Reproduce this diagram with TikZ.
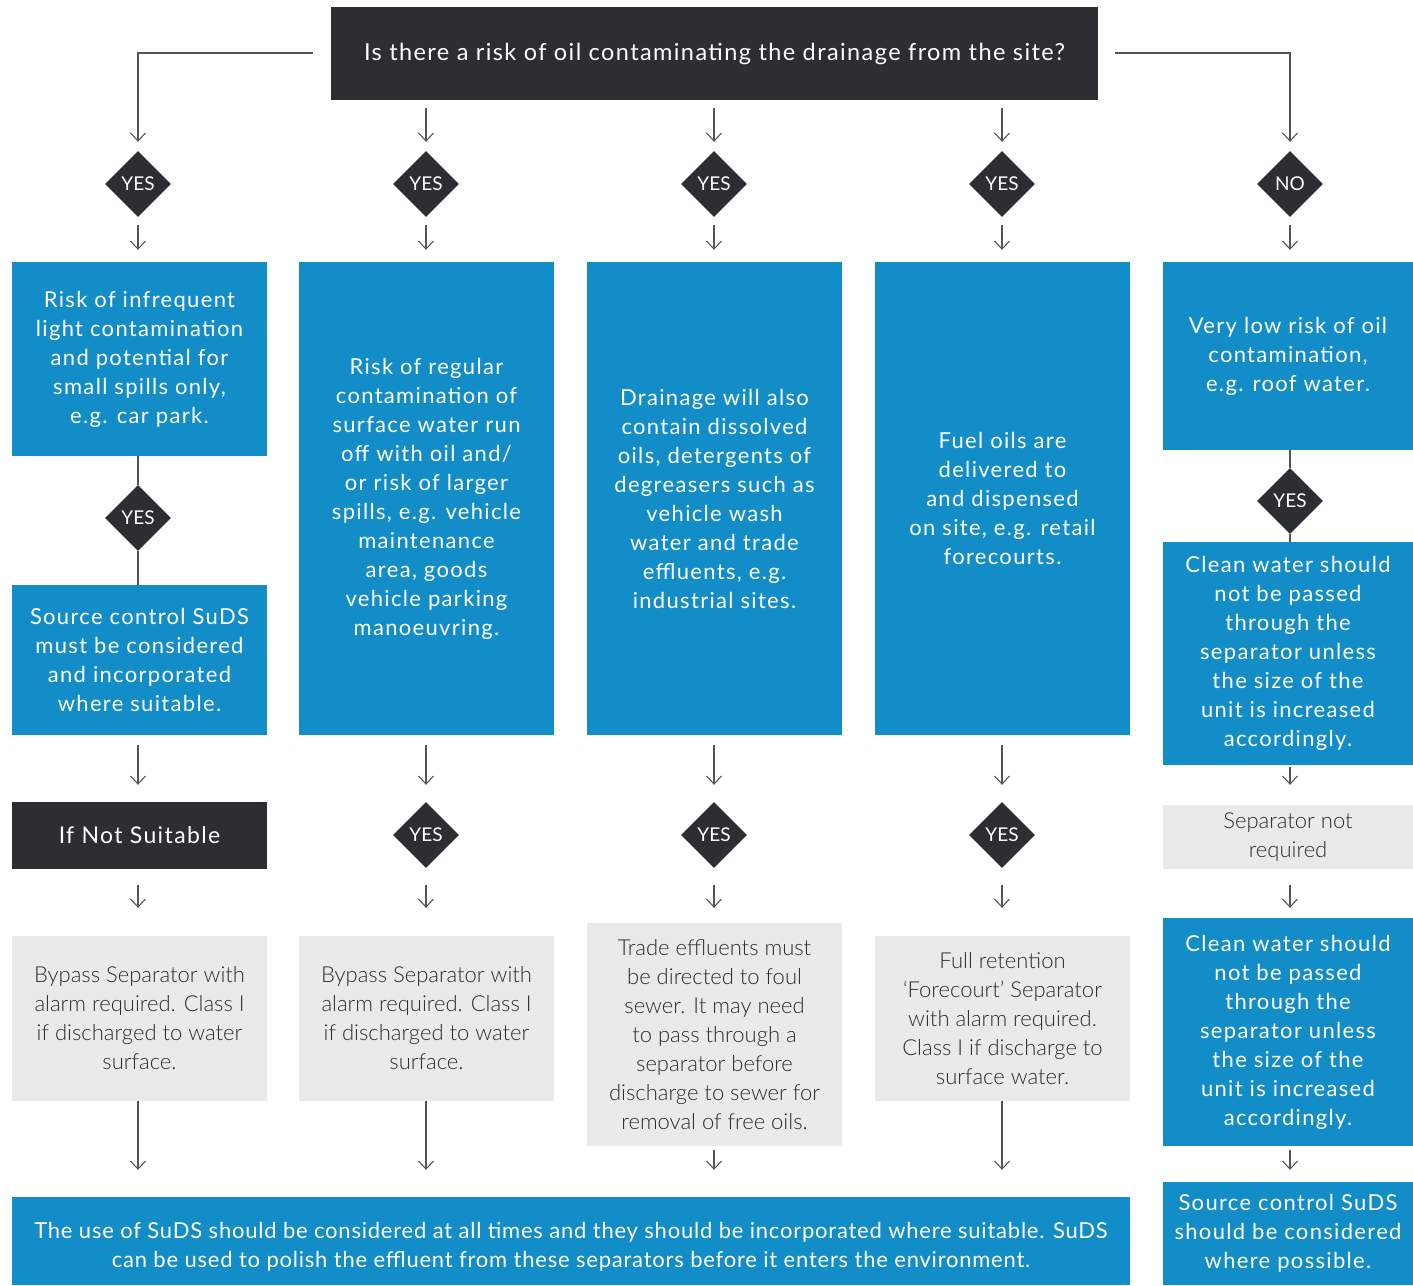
\documentclass[tikz,border=0pt]{standalone}
\usepackage{fontspec}
\setmainfont{Lato}
\newfontfamily\wideLato[LetterSpace=6]{Lato}
\newfontfamily\midLato[LetterSpace=3.5]{Lato}
\newfontfamily\lightLato{Lato Light}
\usetikzlibrary{shapes.geometric,arrows.meta}
\definecolor{blu}{RGB}{19,141,200}
\definecolor{drk}{RGB}{45,46,50}
\definecolor{lgr}{RGB}{234,234,234}
\definecolor{gtx}{RGB}{45,45,48}
\definecolor{lin}{RGB}{85,85,88}
\begin{document}
\begin{tikzpicture}[x=1pt,y=-1pt,
  box/.style={rectangle, inner sep=0pt, align=center, minimum width=255pt},
  bluebox/.style={box, fill=blu, text=white, font=\wideLato\fontsize{22}{29}\selectfont},
  darkbox/.style={box, fill=drk, text=white, font=\wideLato\fontsize{22}{29}\selectfont},
  greybox/.style={box, fill=lgr, text=gtx, font=\lightLato\fontsize{22}{29}\selectfont},
  dia/.style={diamond, fill=drk, text=white, inner sep=0pt, minimum width=66pt, minimum height=66pt, font=\fontsize{19}{20}\selectfont},
  arr/.style={draw=lin, line width=1.1pt, -{Straight Barb[length=8pt,width=15pt,line width=1.1pt]}},
  lnk/.style={draw=lin, line width=1.1pt}
]
\useasboundingbox (0,0) rectangle (1413,1285);

% top question
\node[darkbox, minimum width=767pt, minimum height=93pt, font=\wideLato\fontsize{23.5}{29}\selectfont] (top) at (714.5,53.5) {Is there a risk of oil contaminating the drainage from the site?};
\coordinate (tl) at (313,53);
\coordinate (tr) at (1115,53);

% first row diamonds
\node[dia] (d1) at (138,184) {YES};
\node[dia] (d2) at (426,184) {YES};
\node[dia] (d3) at (714,184) {YES};
\node[dia] (d4) at (1002,184) {YES};
\node[dia] (d5) at (1290,184) {NO};

% blue boxes
\node[bluebox, minimum height=194pt] (b1) at (139.5,359) {Risk of infrequent\\light contamination\\and potential for\\small spills only,\\e.g. car park.};
\node[bluebox, minimum height=473pt] (b2) at (426.5,498.5) {Risk of regular\\contamination of\\surface water run\\off with oil and/\\or risk of larger\\spills, e.g. vehicle\\maintenance\\area, goods\\vehicle parking\\manoeuvring.};
\node[bluebox, minimum height=473pt] (b3) at (714.5,498.5) {Drainage will also\\contain dissolved\\oils, detergents of\\degreasers such as\\vehicle wash\\water and trade\\effluents, e.g.\\industrial sites.};
\node[bluebox, minimum height=473pt] (b4) at (1002.5,498.5) {Fuel oils are\\delivered to\\and dispensed\\on site, e.g. retail\\forecourts.};
\node[bluebox, minimum width=250pt, minimum height=188pt] (b5) at (1288,356) {Very low risk of oil\\contamination,\\e.g. roof water.};

% column 1 lower
\node[dia] (d1b) at (138,518) {YES};
\node[bluebox, minimum height=150pt] (s1) at (139.5,660) {Source control SuDS\\must be considered\\and incorporated\\where suitable.};
\node[darkbox, minimum height=67pt, font=\wideLato\fontsize{23}{29}\selectfont] (ns) at (139.5,835.5) {If Not Suitable};
\node[greybox, minimum height=165pt] (g1) at (139.5,1018.5) {Bypass Separator with\\alarm required. Class I\\if discharged to water\\surface.};

% column 2..4 lower
\node[dia] (d2c) at (426,835) {YES};
\node[dia] (d3c) at (714,835) {YES};
\node[dia] (d4c) at (1002,835) {YES};
\node[greybox, minimum height=165pt] (g2) at (426.5,1018.5) {Bypass Separator with\\alarm required. Class I\\if discharged to water\\surface.};
\node[greybox, minimum height=223pt] (g3) at (714.5,1034.5) {Trade effluents must\\be directed to foul\\sewer. It may need\\to pass through a\\separator before\\discharge to sewer for\\removal of free oils.};
\node[greybox, minimum height=165pt] (g4) at (1002.5,1018.5) {Full retention\\‘Forecourt’ Separator\\with alarm required.\\Class I if discharge to\\surface water.};

% column 5 lower
\node[dia] (d5b) at (1290,501) {YES};
\node[bluebox, minimum width=250pt, minimum height=223pt] (c5) at (1288,653.5) {Clean water should\\not be passed\\through the\\separator unless\\the size of the\\unit is increased\\accordingly.};
\node[greybox, minimum width=250pt, minimum height=64pt] (sep) at (1288,837) {Separator not\\required};
\node[bluebox, minimum width=250pt, minimum height=228pt] (c5b) at (1288,1032) {Clean water should\\not be passed\\through the\\separator unless\\the size of the\\unit is increased\\accordingly.};
\node[bluebox, minimum width=250pt, minimum height=103pt] (s5) at (1288,1233.5) {Source control SuDS\\should be considered\\where possible.};

% bottom
\node[bluebox, minimum width=1118pt, minimum height=88pt] (bot) at (571,1241) {};
\node[align=center, inner sep=0pt, text=white, font=\midLato\fontsize{22}{29}\selectfont] (bottxt) at (571,1247) {The use of SuDS should be considered at all times and they should be incorporated where suitable. SuDS\\can be used to polish the effluent from these separators before it enters the environment.};

% connectors: top
\draw[arr, shorten >=9pt] (tl) -| (d1.north);
\draw[arr, shorten >=9pt] (tr) -| (d5.north);
\foreach \d in {d2,d3,d4}{
  \draw[arr, shorten <=8pt, shorten >=9pt] (top.south -| \d.north) -- (\d.north);
}
% diamonds to blue boxes
\foreach \d/\b in {d1/b1,d2/b2,d3/b3,d4/b4,d5/b5}{
  \draw[arr, shorten <=8pt, shorten >=12pt] (\d.south) -- (\d.south |- \b.north);
}
% column 1
\draw[lnk] (b1.south -| d1b.north) -- (d1b.north);
\draw[lnk] (d1b.south) -- (d1b.south |- s1.north);
\draw[arr, shorten <=10pt, shorten >=17pt] (s1.south -| d1b.south) -- (d1b.south |- ns.north);
\draw[arr, shorten <=16pt, shorten >=28pt] (ns.south -| d1b.south) -- (d1b.south |- g1.north);
% columns 2..4
\foreach \b/\d/\g in {b2/d2c/g2,b3/d3c/g3,b4/d4c/g4}{
  \draw[arr, shorten <=10pt, shorten >=17pt] (\b.south -| \d.north) -- (\d.north);
}
\draw[arr, shorten <=17pt, shorten >=28pt] (d2c.south) -- (d2c.south |- g2.north);
\draw[arr, shorten <=17pt, shorten >=15pt] (d3c.south) -- (d3c.south |- g3.north);
\draw[arr, shorten <=17pt, shorten >=28pt] (d4c.south) -- (d4c.south |- g4.north);
% to bottom box
\draw[arr, shorten >=27pt] (g1.south -| d1.south) -- (d1.south |- bot.north);
\draw[arr, shorten >=27pt] (g2.south -| d2.south) -- (d2.south |- bot.north);
\draw[arr, shorten <=4pt, shorten >=27pt] (g3.south -| d3.south) -- (d3.south |- bot.north);
\draw[arr, shorten >=27pt] (g4.south -| d4.south) -- (d4.south |- bot.north);
% column 5
\draw[lnk] (b5.south -| d5b.north) -- (d5b.north);
\draw[lnk] (d5b.south) -- (d5b.south |- c5.north);
\draw[arr, shorten <=2pt, shorten >=20pt] (c5.south -| d5b.south) -- (d5b.south |- sep.north);
\draw[arr, shorten <=16pt, shorten >=10pt] (sep.south -| d5b.south) -- (d5b.south |- c5b.north);
\draw[arr, shorten <=4pt, shorten >=12pt] (c5b.south -| d5b.south) -- (d5b.south |- s5.north);
\end{tikzpicture}
\end{document}
